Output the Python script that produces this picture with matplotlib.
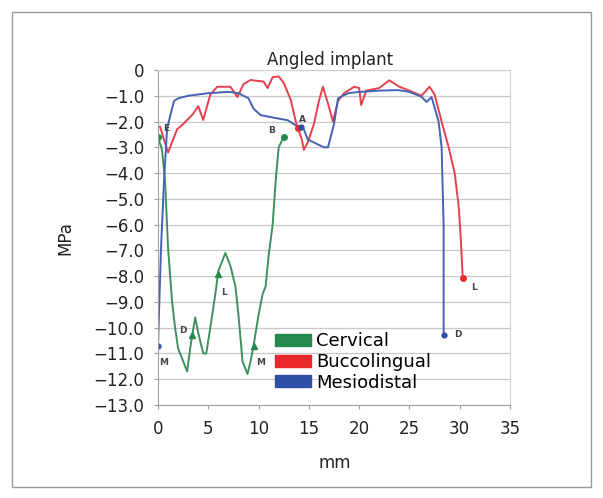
import matplotlib.pyplot as plt
from matplotlib.patches import Rectangle, Patch
from matplotlib.ticker import FuncFormatter, MultipleLocator

# stress along the implant profile (mm, MPa)
cervical_x = [0, 0.4, 0.7, 1.0, 1.4, 1.7, 2.0, 2.4, 2.9, 3.2, 3.4, 3.7, 4.0, 4.5,
              4.8, 5.2, 5.7, 6.0, 6.7, 7.2, 7.7, 8.0, 8.4, 8.9, 9.2, 9.5, 10.0,
              10.4, 10.7, 11.0, 11.4, 11.7, 12.0, 12.5]
cervical_y = [-2.6, -3.1, -4.3, -6.9, -9.0, -10.0, -10.8, -11.2, -11.7, -10.8,
              -10.3, -9.6, -10.2, -11.0, -11.0, -10.0, -8.7, -7.8, -7.1, -7.6,
              -8.4, -9.5, -11.3, -11.8, -11.3, -10.7, -9.5, -8.7, -8.4, -7.2,
              -6.0, -4.3, -3.0, -2.6]

bucco_x = [0.2, 1.0, 1.9, 2.5, 3.5, 4.0, 4.5, 5.2, 5.9, 7.2, 7.9, 8.5, 9.2, 10.5,
           10.9, 11.4, 12.0, 12.5, 13.2, 13.7, 13.9, 14.3, 14.5, 14.9, 15.5, 16.0,
           16.4, 16.9, 17.4, 17.9, 18.5, 19.5, 20.0, 20.2, 20.7, 22.0, 23.0, 24.0,
           25.0, 26.2, 27.0, 27.5, 28.2, 28.9, 29.5, 29.9, 30.1, 30.3]
bucco_y = [-2.2, -3.2, -2.3, -2.1, -1.7, -1.4, -1.94, -0.95, -0.65, -0.65, -1.05,
           -0.55, -0.39, -0.45, -0.7, -0.28, -0.25, -0.5, -1.16, -2.0, -2.25, -2.7,
           -3.1, -2.8, -2.1, -1.2, -0.65, -1.3, -2.0, -1.2, -0.9, -0.65, -0.7,
           -1.36, -0.8, -0.7, -0.4, -0.65, -0.8, -1.0, -0.65, -0.95, -2.0, -3.0,
           -4.0, -5.3, -6.5, -8.06]

mesio_x = [0, 0.3, 0.6, 0.9, 1.2, 1.6, 2.0, 3.0, 5.0, 7.0, 8.0, 9.0, 9.5, 10.2,
           11.5, 12.9, 13.9, 14.5, 14.9, 16.5, 16.9, 17.5, 17.9, 18.9, 20.0, 22.0,
           23.9, 25.0, 26.2, 26.7, 27.2, 27.9, 28.2, 28.4, 28.4]
mesio_y = [-10.7, -6.9, -4.3, -2.3, -1.8, -1.2, -1.1, -1.0, -0.9, -0.85, -0.9,
           -1.1, -1.5, -1.75, -1.85, -1.95, -2.2, -2.3, -2.7, -3.0, -3.0, -2.1,
           -1.1, -0.9, -0.85, -0.8, -0.78, -0.85, -1.04, -1.24, -1.05, -2.0, -3.0,
           -6.0, -10.27]

# point labels: (x, y, text)
point_labels = [(0.8, -2.27, "E"), (11.3, -2.36, "B"), (14.4, -1.94, "A"),
                (2.5, -10.1, "D"), (6.6, -8.64, "L"), (10.2, -11.36, "M"),
                (0.6, -11.36, "M"), (31.4, -8.45, "L"), (29.8, -10.27, "D")]

green_line, green = "#3f9060", "#23894d"
red_line, red = "#e5404d", "#e8282c"
blue_line, blue = "#4563b2", "#2f4fa5"

plt.rcParams['font.family'] = ['DejaVu Sans']

fig = plt.figure(figsize=(6.03, 4.98), dpi=100)
fig.patches.append(Rectangle((12 / 603, 11 / 498), 579 / 603, 475 / 498,
                             transform=fig.transFigure, fill=False,
                             edgecolor="#9a9a9a", linewidth=1.0))

ax = fig.add_axes([158 / 603, 1 - 405 / 498, 352 / 603, 335 / 498])

ax.plot(cervical_x, cervical_y, color=green_line, lw=1.4)
ax.plot(bucco_x, bucco_y, color=red_line, lw=1.4)
ax.plot(mesio_x, mesio_y, color=blue_line, lw=1.4)

# markers at the labelled points
ax.plot([cervical_x[0], cervical_x[-1]], [cervical_y[0], cervical_y[-1]], "o",
        color=green, ms=4)
ax.plot([3.4, 6.0, 9.5], [-10.3, -7.9, -10.7], "^", color=green, ms=5)
ax.plot([13.9, bucco_x[-1]], [-2.25, bucco_y[-1]], "o", color=red, ms=4)
ax.plot([14.2, mesio_x[0], mesio_x[-1]], [-2.2, mesio_y[0], mesio_y[-1]], "o",
        color=blue, ms=3.5)

for lx, ly, txt in point_labels:
    ax.text(lx, ly, txt, fontsize=6.5, fontweight="bold", color="#444444",
            ha="center", va="center")

ax.set_xlim(0, 35)
ax.set_ylim(-13, 0)
ax.xaxis.set_major_locator(MultipleLocator(5))
ax.yaxis.set_major_locator(MultipleLocator(1))
ax.yaxis.set_major_formatter(FuncFormatter(
    lambda v, p: "0" if abs(v) < 1e-9 else f"{v:.1f}".replace("-", "\u2212")))
ax.grid(axis="y", color="#c8c8c8", lw=0.9)
ax.set_axisbelow(True)

for side in ["top", "right"]:
    ax.spines[side].set_color("#d0d0d0")
for side in ["left", "bottom"]:
    ax.spines[side].set_color("#a0a0a0")
ax.tick_params(axis="both", labelsize=12, color="#a0a0a0", length=3,
               labelcolor="#222222")
ax.tick_params(axis="y", pad=7)
ax.tick_params(axis="x", pad=8)

handles = [Patch(color=green, label="Cervical"),
           Patch(color=red, label="Buccolingual"),
           Patch(color=blue, label="Mesiodistal")]
ax.legend(handles=handles, loc="lower left", bbox_to_anchor=(0.332, 0.04),
          frameon=False, fontsize=13, handlelength=2.0, handleheight=0.65,
          handletextpad=0.3, labelspacing=0.15, borderaxespad=0,
          borderpad=0)

fig.text(330 / 603, 1 - 60 / 498, "Angled implant", fontsize=12,
         ha="center", va="center", color="#222222")
fig.text(335 / 603, 1 - 463 / 498, "mm", fontsize=12, ha="center",
         va="center", color="#222222")
fig.text(65 / 603, 1 - 238 / 498, "MPa", fontsize=12, ha="center",
         va="center", rotation=90, color="#222222")

fig.savefig("out.png", dpi=100)
